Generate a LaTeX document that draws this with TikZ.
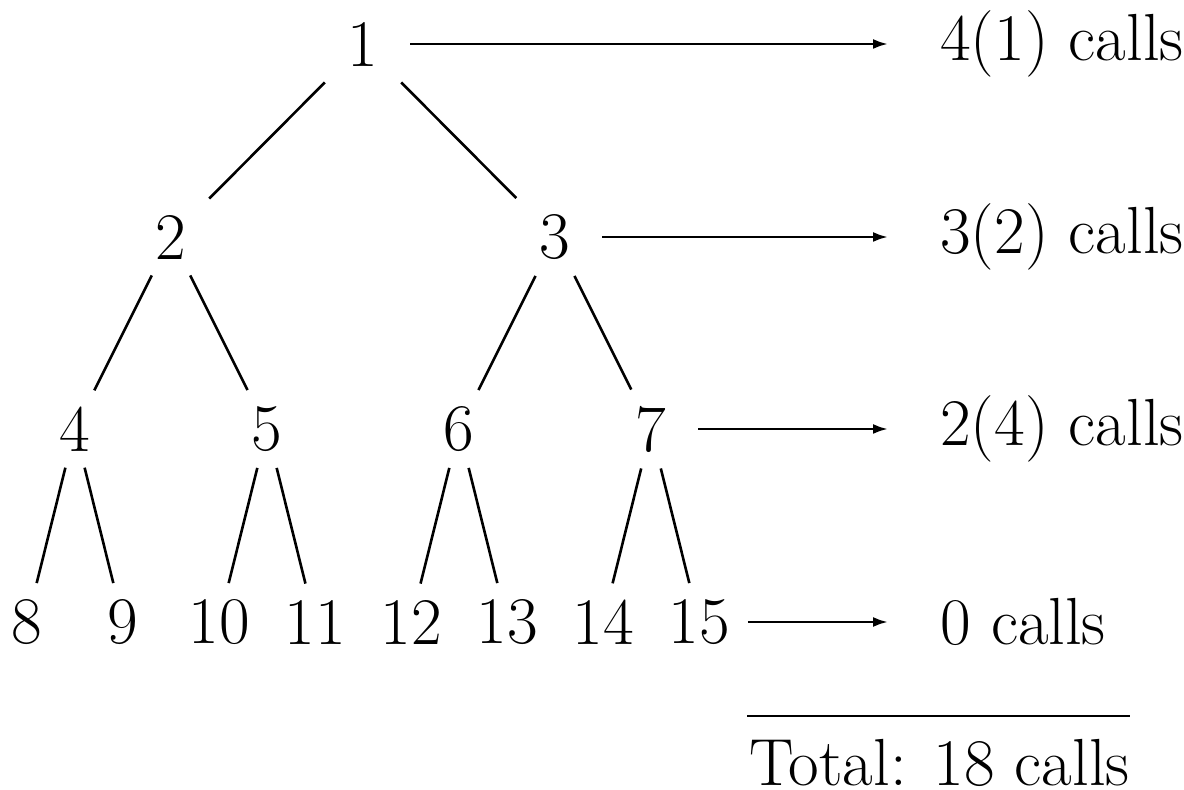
\documentclass[tikz,border=0pt]{standalone}
\usetikzlibrary{arrows.meta}
\begin{document}
\begin{tikzpicture}[x=0.5pt,y=-0.5pt,
  font=\fontsize{33.3}{40}\selectfont,
  tn/.style={inner xsep=9pt,inner ysep=8pt,minimum width=47pt},
  lab/.style={anchor=west,inner xsep=26pt,inner ysep=0pt},
  edge/.style={line width=1.3pt},
  arr/.style={line width=1.3pt,-{Latex[length=7.5pt,width=5pt]}}]
\useasboundingbox (0,0) rectangle (1184,790);
% tree nodes
\node[tn] (n1) at (363,44) {1};
\node[tn] (n2) at (171,237) {2};
\node[tn] (n3) at (555,237) {3};
\node[tn] (n4) at (75,429) {4};
\node[tn] (n5) at (267,429) {5};
\node[tn] (n6) at (459,429) {6};
\node[tn] (n7) at (651,429) {7};
\node[tn] (n8) at (27,622) {8};
\node[tn] (n9) at (123,622) {9};
\node[tn] (n10) at (219,622) {10};
\node[tn] (n11) at (315,622) {11};
\node[tn] (n12) at (411,622) {12};
\node[tn] (n13) at (507,622) {13};
\node[tn] (n14) at (603,622) {14};
\node[tn] (n15) at (699,622) {15};
% edges
\draw[edge] (n1) -- (n2);
\draw[edge] (n1) -- (n3);
\draw[edge] (n2) -- (n4);
\draw[edge] (n2) -- (n5);
\draw[edge] (n3) -- (n6);
\draw[edge] (n3) -- (n7);
\draw[edge] (n4) -- (n8);
\draw[edge] (n4) -- (n9);
\draw[edge] (n5) -- (n10);
\draw[edge] (n5) -- (n11);
\draw[edge] (n6) -- (n12);
\draw[edge] (n6) -- (n13);
\draw[edge] (n7) -- (n14);
\draw[edge] (n7) -- (n15);
% labels
\node[lab] (l1) at (888,44) {4(1) calls};
\node[lab] (l2) at (888,237) {3(2) calls};
\node[lab] (l3) at (888,429) {2(4) calls};
\node[lab] (l4) at (888,622) {0 calls};
\draw[arr] (n1) -- (l1);
\draw[arr] (n3) -- (l2);
\draw[arr] (n7) -- (l3);
\draw[arr] (n15) -- (l4);
% total
\coordinate (r1) at (747,716);
\coordinate (r2) at (1130,716);
\draw[edge] (r1) -- (r2);
\node[anchor=base west,inner sep=0pt] (tot) at (749,785) {Total: 18 calls};
\end{tikzpicture}
\end{document}
